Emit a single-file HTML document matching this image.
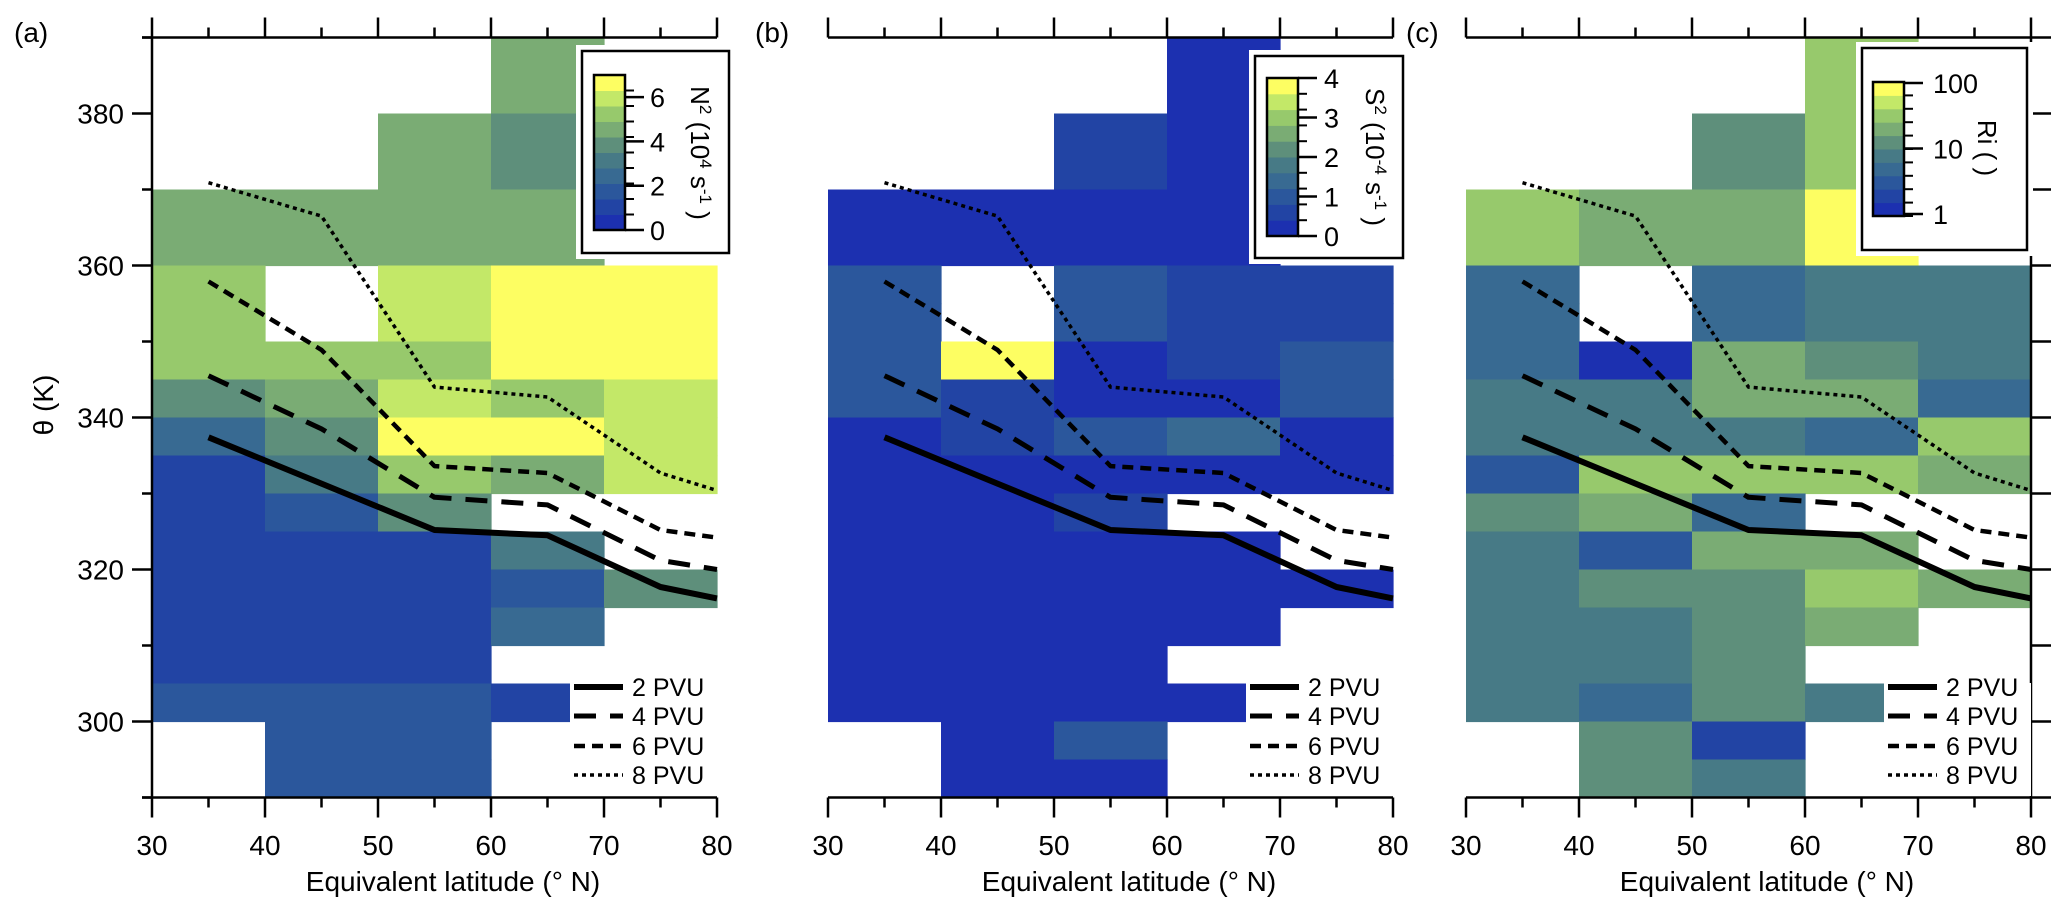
<!DOCTYPE html>
<html><head><meta charset="utf-8"><style>
html,body{margin:0;padding:0;background:#fff;}
svg{display:block;font-family:"Liberation Sans",Arial,sans-serif;}
</style></head><body>
<svg id="fig" width="2067" height="916" viewBox="0 0 2067 916" xmlns="http://www.w3.org/2000/svg"></svg>
<script>
// ---------- data ----------
const latBins = [30, 40, 50, 60, 70];
const thetaBins = [385,380,375,370,365,360,355,350,345,340,335,330,325,320,315,310,305,300,295,290];
const pvuLats = [35, 45, 55, 65, 75, 80];
const pvu2 = [337.4, 331.3, 325.2, 324.5, 317.7, 316.2];
const pvu4 = [345.5, 338.5, 329.5, 328.5, 321.2, 320.0];
const pvu6 = [357.9, 348.9, 333.6, 332.7, 325.2, 324.2];
const pvu8 = [370.9, 366.5, 344.0, 342.7, 332.7, 330.4];
const n = null;
const n2Values = [
 [n,n,n,4.5,n],[n,n,n,4.5,n],[n,n,4.5,3.8,n],[n,n,4.5,3.8,n],
 [4.5,4.5,4.5,4.5,n],[4.5,4.5,4.5,4.5,n],
 [5.2,n,5.9,6.6,6.6],[5.2,n,5.9,6.6,6.6],[5.2,5.2,5.2,6.6,6.6],
 [3.8,4.5,5.9,5.2,5.9],[2.4,3.8,6.6,6.6,5.9],[1.0,3.1,5.2,4.5,5.9],
 [1.0,1.7,3.8,n,n],[1.0,1.0,1.0,3.1,n],[1.0,1.0,1.0,1.7,3.8],
 [1.0,1.0,1.0,2.4,n],[1.0,1.0,1.0,n,n],[1.7,1.7,1.7,1.0,n],
 [n,1.7,1.7,n,n],[n,1.7,1.7,n,n]];
const s2Values = [
 [n,n,n,0.2,n],[n,n,n,0.2,n],[n,n,0.6,0.2,n],[n,n,0.6,0.2,n],
 [0.2,0.2,0.2,0.2,n],[0.2,0.2,0.2,0.2,n],
 [1.0,n,1.0,0.6,0.6],[1.0,n,1.0,0.6,0.6],[1.0,3.8,0.2,0.6,1.0],
 [1.0,0.6,0.2,0.2,1.0],[0.2,0.6,1.0,1.4,0.2],[0.2,0.2,0.2,0.2,0.2],
 [0.2,0.2,0.6,n,n],[0.2,0.2,0.2,0.2,n],[0.2,0.2,0.2,0.2,0.2],
 [0.2,0.2,0.2,0.2,n],[0.2,0.2,0.2,n,n],[0.2,0.2,0.2,0.2,n],
 [n,0.2,1.0,n,n],[n,0.2,0.2,n,n]];
const riValues = [
 [n,n,n,28,n],[n,n,n,28,n],[n,n,11,28,n],[n,n,11,28,n],
 [28,18,18,70,n],[28,18,18,70,n],
 [4.5,n,4.5,7,7],[4.5,n,4.5,7,7],[4.5,1.2,18,11,7],
 [7,7,18,18,4.5],[7,7,7,4.5,28],[3,28,28,28,18],
 [11,18,4.5,n,n],[7,3,18,18,n],[7,11,11,28,18],
 [7,7,11,18,n],[7,7,11,n,n],[7,4.5,11,7,n],
 [n,11,1.8,n,n],[n,11,7,n,n]];
const n2Ticks = [0,2,4,6];
const s2Ticks = [0,1,2,3,4];
const riTicks = [1,10,100];
const xTicks = [30,40,50,60,70,80];
const yTicks = [300,320,340,360,380];

// ---------- geometry ----------
const palette = ['#1c30b0','#2244a4','#2b579c','#386a92','#477a86','#5e8f7b','#7aac74','#97c96c','#c3e868','#fdfe62'];
const X0 = [152, 828, 1466];
const PX = 11.3, PY = 7.6;
function xs(p, lat){ return X0[p] + (lat-30)*PX; }
function ys(th){ return 37.5 + (390-th)*PY; }
const svg = document.getElementById('fig');
const NS = 'http://www.w3.org/2000/svg';
function mk(tag, attrs, parent){
  const e = document.createElementNS(NS, tag);
  for (const k in attrs) e.setAttribute(k, attrs[k]);
  (parent||svg).appendChild(e); return e;
}
function lvlLin(v, lo, hi){ let l = Math.floor((v-lo)/(hi-lo)*10); return Math.max(0, Math.min(9, l)); }
function lvlLog(v, lo, hi){ let l = Math.floor((Math.log10(v)-Math.log10(lo))/(Math.log10(hi)-Math.log10(lo))*10); return Math.max(0, Math.min(9, l)); }
const panels = [
  {vals:n2Values, lvl:v=>lvlLin(v,0,7), label:'(a)', labx:14, name:'n2'},
  {vals:s2Values, lvl:v=>lvlLin(v,0,4), label:'(b)', labx:755, name:'s2'},
  {vals:riValues, lvl:v=>lvlLog(v,1,100), label:'(c)', labx:1406, name:'ri'}
];

panels.forEach((P, p) => {
  const g = mk('g', {});
  
  
  thetaBins.forEach((th, r) => {
    latBins.forEach((lat, c) => {
      const v = P.vals[r][c];
      if (v === null) return;
      const rc = mk('rect', {x: xs(p,lat), y: ys(th+5), width: PX*10+0.6, height: PY*5+0.6, fill: palette[P.lvl(v)]}, g);
      
      
    });
  });
  const series = [[pvu2,6,'none'],[pvu4,5,'22 14'],[pvu6,4.5,'11 7'],[pvu8,3.5,'4 4']];
  const names = ['pvu-2-line','pvu-4-line','pvu-6-line','pvu-8-line'];
  series.forEach((s, i) => {
    const d = pvuLats.map((la, k) => (k?'L':'M') + xs(p,la).toFixed(1) + ' ' + ys(s[0][k]).toFixed(1)).join(' ');
    const pe = mk('path', {d, fill:'none', stroke:'#000', 'stroke-width':s[1], 'stroke-dasharray':s[2], 'stroke-linejoin':'round'}, g);
    
    
  });
  const left = X0[p], right = X0[p] + 565, top = ys(390), bot = ys(290);
  const ax = mk('g', {stroke:'#000', 'stroke-width':2.5, fill:'none'}, g);
  
  
  const ext = p === 0 ? 10 : 0;
  mk('line', {x1:left-ext, y1:top, x2:right, y2:top}, ax);
  mk('line', {x1:left-ext, y1:bot, x2:right, y2:bot}, ax);
  for (let la = 30; la <= 80; la += 5) {
    const L = (la % 10 === 0) ? 20 : 10;
    mk('line', {x1:xs(p,la), y1:top, x2:xs(p,la), y2:top-L}, ax);
    mk('line', {x1:xs(p,la), y1:bot, x2:xs(p,la), y2:bot+L}, ax);
  }
  xTicks.forEach(t => {
    const tx = mk('text', {x:xs(p,t), y:855, 'font-size':28, 'text-anchor':'middle', fill:'#000'}, g);
    tx.textContent = t;
    
    
  });
  const xt = mk('text', {x:left+301, y:891, 'font-size':28, 'text-anchor':'middle', fill:'#000'}, g);
  xt.textContent = 'Equivalent latitude (° N)';
  
  
  if (p === 0) {
    mk('line', {x1:left, y1:top, x2:left, y2:bot}, ax);
    for (let th = 290; th <= 390; th += 10) {
      const L = (th % 20 === 0) ? 20 : 10;
      mk('line', {x1:left-L, y1:ys(th), x2:left, y2:ys(th)}, ax);
    }
    yTicks.forEach(t => {
      const ty = mk('text', {x:124, y:ys(t)+10, 'font-size':28, 'text-anchor':'end', fill:'#000'}, g);
      ty.textContent = t;
      
      
    });
    const yt = mk('text', {x:0, y:0, 'font-size':28, 'text-anchor':'middle', fill:'#000', transform:'translate(53,405) rotate(-90)'}, g);
    yt.textContent = 'θ (K)';
    
    
  }
  if (p === 2) {
    mk('line', {x1:right, y1:top, x2:right, y2:bot}, ax);
    for (let th = 290; th <= 390; th += 10) {
      mk('line', {x1:right, y1:ys(th), x2:right+20, y2:ys(th)}, ax);
    }
  }
  const pl = mk('text', {x:P.labx, y:42, 'font-size':28, fill:'#000'}, g);
  pl.textContent = P.label;
  
  
  const lg = mk('g', {}, g);
  
  
  mk('rect', {x:left+418, y:683, width:147, height:bot-683-1.5, fill:'#fff'}, lg);
  const labs = ['2 PVU','4 PVU','6 PVU','8 PVU'];
  const rowsY = [687, 716, 746, 775];
  series.forEach((s, i) => {
    mk('line', {x1:left+422, y1:rowsY[i], x2:left+471, y2:rowsY[i], stroke:'#000', 'stroke-width':s[1], 'stroke-dasharray':s[2]}, lg);
    const t = mk('text', {x:left+480, y:rowsY[i]+9, 'font-size':25, fill:'#000'}, lg);
    t.textContent = labs[i];
    
    
  });
});

// ---------- colorbars ----------
function colorbar(cfg){
  const g = mk('g', {});
  
  
  mk('rect', {x:cfg.bx-6, y:cfg.by-6, width:cfg.bw+12, height:cfg.bh+12, fill:'#fff'}, g);
  mk('rect', {x:cfg.bx, y:cfg.by, width:cfg.bw, height:cfg.bh, fill:'#fff', stroke:'#000', 'stroke-width':2.5}, g);
  const h = (cfg.y0 - cfg.y1) / 10;
  for (let i = 0; i < 10; i++) {
    mk('rect', {x:cfg.cx, y:cfg.y0 - (i+1)*h, width:cfg.cw, height:h+0.5, fill:palette[i]}, g);
    mk('line', {x1:cfg.cx+cfg.cw, y1:cfg.y0 - i*h, x2:cfg.cx+cfg.cw+9, y2:cfg.y0 - i*h, stroke:'#000', 'stroke-width':2}, g);
  }
  mk('rect', {x:cfg.cx, y:cfg.y1, width:cfg.cw, height:cfg.y0-cfg.y1, fill:'none', stroke:'#000', 'stroke-width':2.5}, g);
  cfg.ticks.forEach(t => {
    const ty = cfg.map(t);
    mk('line', {x1:cfg.cx+cfg.cw, y1:ty, x2:cfg.cx+cfg.cw+19, y2:ty, stroke:'#000', 'stroke-width':2.5}, g);
    const tx = mk('text', {x:cfg.lx, y:ty+10, 'font-size':27, fill:'#000'}, g);
    tx.textContent = t;
    
    
  });
  const tt = mk('text', {x:0, y:0, 'font-size':26, 'text-anchor':'middle', fill:'#000', transform:`translate(${cfg.tx},${cfg.ty}) rotate(90)`}, g);
  tt.innerHTML = cfg.title;
  
  
}
colorbar({name:'colorbar-n2', bx:582, by:51, bw:147, bh:202, cx:594, cw:31, y0:230, y1:75,
  ticks:n2Ticks, map:v=>230-(v/7)*155, lx:650, tx:691, ty:153,
  title:'N<tspan dy="-9" font-size="17">2</tspan><tspan dy="9"> (10</tspan><tspan dy="-9" font-size="17">4</tspan><tspan dy="9"> s</tspan><tspan dy="-9" font-size="17">-1</tspan><tspan dy="9"> )</tspan>'});
colorbar({name:'colorbar-s2', bx:1255, by:56, bw:148, bh:202, cx:1267, cw:31, y0:236, y1:78,
  ticks:s2Ticks, map:v=>236-(v/4)*158, lx:1324, tx:1366, ty:157,
  title:'S<tspan dy="-9" font-size="17">2</tspan><tspan dy="9"> (10</tspan><tspan dy="-9" font-size="17">-4</tspan><tspan dy="9"> s</tspan><tspan dy="-9" font-size="17">-1</tspan><tspan dy="9"> )</tspan>'});
colorbar({name:'colorbar-ri', bx:1862, by:48, bw:165, bh:202, cx:1873, cw:31, y0:216, y1:82,
  ticks:riTicks, map:v=>214-(Math.log10(v)/2)*131, lx:1933, tx:1978, ty:148,
  title:'Ri ( )'});
</script>
</body></html>
